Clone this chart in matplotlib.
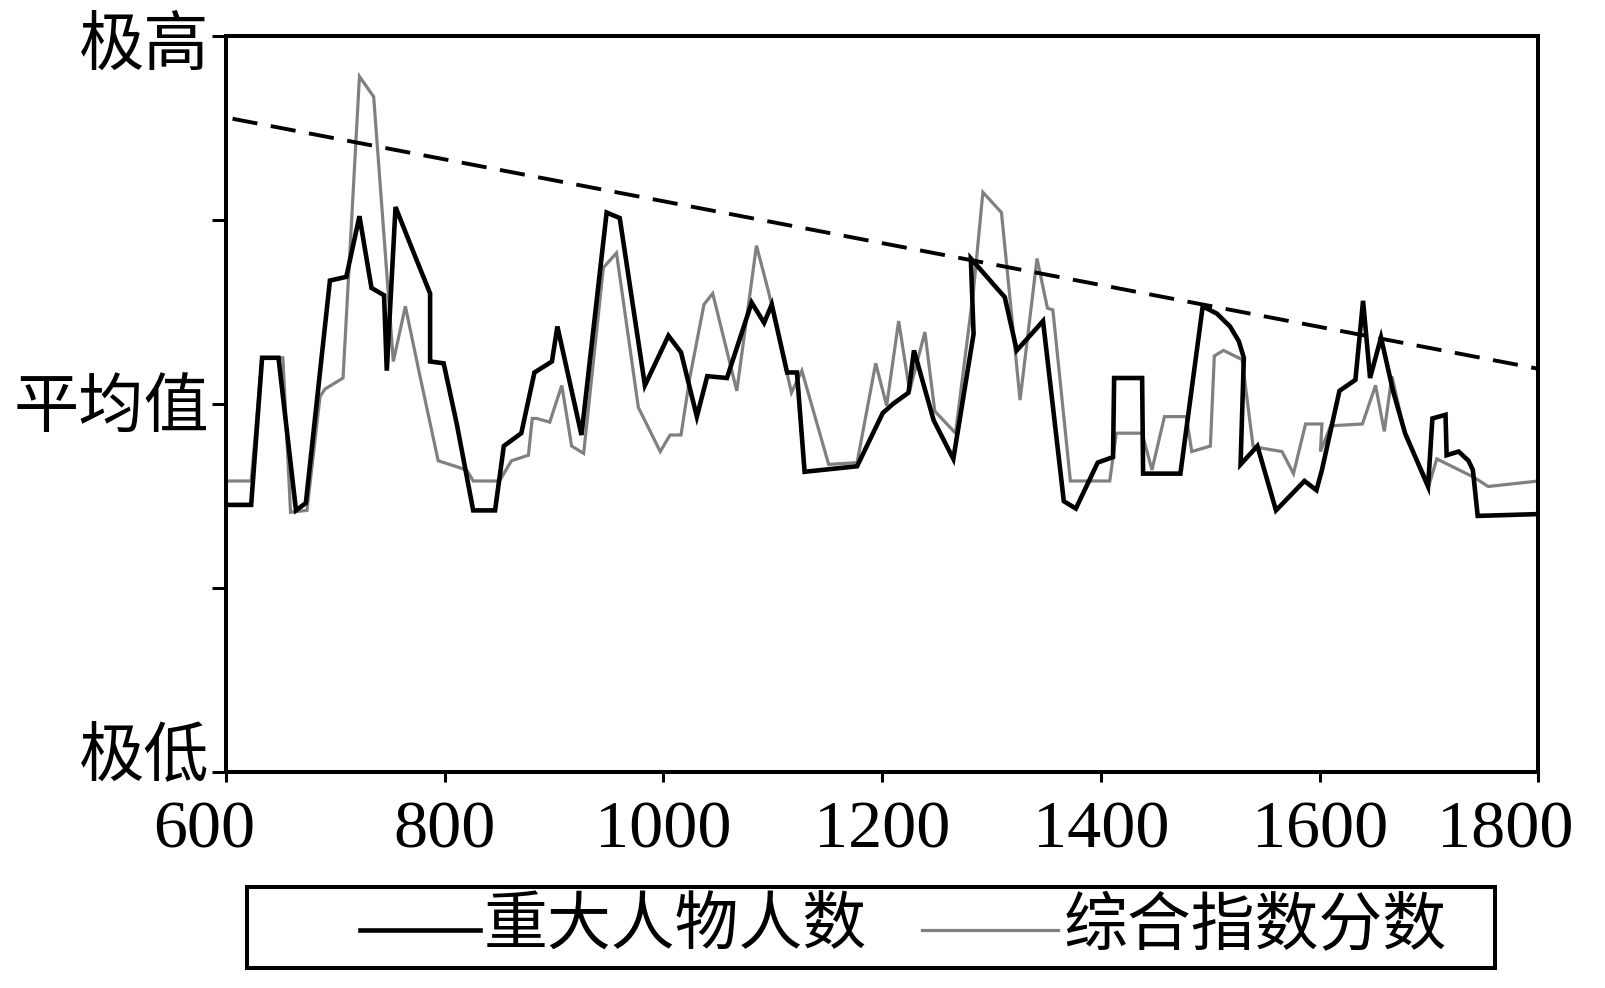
# -*- coding: utf-8 -*-
# 重大人物人数 vs 综合指数分数 (600-1800)
import matplotlib
matplotlib.use('Agg')
import matplotlib.pyplot as plt
import matplotlib.transforms as mtransforms
from matplotlib.lines import Line2D
from matplotlib.patches import Rectangle

plt.rcParams['font.family'] = ['Liberation Serif', 'Noto Sans CJK SC']

# black series: 重大人物人数 (years, level 0=极低 .. 4=极高)
black_year = [600, 623, 633, 648, 664, 673, 695, 710, 722, 733, 744.5, 747, 755, 771, 786.6, 786.6,
              799, 811, 826, 846, 854, 870, 882, 898, 903, 925, 948, 960, 983, 1004.5, 1016, 1030.5,
              1040, 1058, 1080.6, 1092, 1099, 1113, 1122, 1129, 1177, 1200.5, 1210, 1224, 1229, 1247,
              1265, 1283.5, 1281, 1306, 1312, 1323, 1347, 1366, 1377, 1397, 1411, 1412, 1437.6, 1438.5,
              1472.6, 1493, 1506, 1518, 1526, 1530.6, 1527.6, 1543, 1560, 1586, 1597, 1602, 1618, 1632.6,
              1639.6, 1646, 1656, 1667, 1678, 1699, 1703, 1715, 1716, 1727, 1736, 1740, 1744.4, 1800]
black_val = [1.45, 1.45, 2.25, 2.25, 1.42, 1.46, 2.67, 2.69, 3.02, 2.63, 2.59, 2.18, 3.07, 2.83, 2.60, 2.23,
             2.22, 1.89, 1.42, 1.42, 1.77, 1.84, 2.17, 2.23, 2.42, 1.83, 3.04, 3.01, 2.10, 2.37, 2.28, 1.93,
             2.15, 2.14, 2.55, 2.44, 2.54, 2.17, 2.17, 1.63, 1.66, 1.95, 2.00, 2.06, 2.29, 1.91,
             1.70, 2.38, 2.79, 2.62, 2.58, 2.29, 2.45, 1.47, 1.43, 1.68, 1.71, 2.14, 2.14, 1.62,
             1.62, 2.53, 2.49, 2.42, 2.34, 2.25, 1.67, 1.77, 1.42, 1.58, 1.53, 1.64, 2.07, 2.13,
             2.56, 2.14, 2.36, 2.07, 1.84, 1.55, 1.92, 1.94, 1.72, 1.74, 1.69, 1.64, 1.39, 1.40]

# gray series: 综合指数分数
gray_year = [600, 623, 633, 652, 659, 674, 686, 690.5, 707, 722, 735, 753, 764, 777, 794, 820, 826, 850,
             861, 876.5, 880, 884, 896, 907, 916, 927, 945, 957, 977, 997, 1006, 1016, 1024, 1037, 1045,
             1067, 1085, 1096, 1117, 1126.5, 1151, 1177, 1194, 1204, 1215, 1225, 1239, 1248, 1267,
             1283.5, 1292, 1309, 1326, 1341.5, 1351, 1356, 1372, 1408, 1414, 1437.6, 1446.6, 1458, 1478,
             1483, 1500, 1503.6, 1512, 1529, 1539, 1545.5, 1565.5, 1576, 1587, 1602, 1600.6, 1610, 1639,
             1651, 1659, 1666, 1678.5, 1700, 1707, 1741, 1754, 1800]
gray_val = [1.58, 1.58, 2.25, 2.25, 1.41, 1.42, 2.04, 2.08, 2.14, 3.78, 3.67, 2.23, 2.53, 2.16, 1.69, 1.64,
            1.58, 1.58, 1.69, 1.72, 1.92, 1.92, 1.90, 2.10, 1.77, 1.73, 2.74, 2.82, 1.98, 1.74, 1.83, 1.83,
            2.14, 2.54, 2.60, 2.07, 2.86, 2.61, 2.06, 2.18, 1.67, 1.68, 2.22, 1.99, 2.45, 2.07, 2.39,
            1.96, 1.84, 2.62, 3.15, 3.04, 2.02, 2.79, 2.52, 2.51, 1.58, 1.58, 1.84, 1.84, 1.64, 1.93,
            1.93, 1.74, 1.77, 2.26, 2.29, 2.24, 1.77, 1.76, 1.74, 1.62, 1.89, 1.89, 1.74, 1.88, 1.89,
            2.10, 1.85, 2.15, 1.82, 1.56, 1.70, 1.60, 1.55, 1.58]

# dashed trend line
trend_year = [606, 1800]
trend_val = [3.55, 2.19]

xticks = [600, 800, 1000, 1200, 1400, 1600, 1800]
yticks = [0, 1, 2, 3, 4]
ylabels = ['极低', '', '平均值', '', '极高']

fig = plt.figure(figsize=(16.06, 9.88), dpi=100)
ax = fig.add_axes([226/1606, 1-771.5/988, (1538.5-226)/1606, (771.5-36)/988])

ax.plot(black_year, black_val, color='black', lw=3.3, solid_joinstyle='miter', zorder=3)
ax.plot(gray_year, gray_val, color='#808080', lw=2.3, solid_joinstyle='miter', zorder=2)
ax.plot(trend_year, trend_val, color='black', lw=2.8, dashes=(6.5, 3.5), zorder=4)

ax.set_xlim(600, 1800)
ax.set_ylim(0, 4)
ax.set_xticks(xticks)
ax.set_xticklabels([str(t) for t in xticks])
ax.set_yticks(yticks)
ax.set_yticklabels(ylabels)
for s in ax.spines.values():
    s.set_linewidth(2.9)
ax.tick_params(axis='x', direction='out', length=7, width=2.2, labelsize=49, pad=14)
ax.tick_params(axis='y', direction='out', length=10, width=2.2, labelsize=47, pad=2)

# nudge end labels like the original
lab = ax.get_xticklabels()
lab[0].set_transform(lab[0].get_transform() + mtransforms.ScaledTranslation(-0.22, 0, fig.dpi_scale_trans))
lab[-1].set_transform(lab[-1].get_transform() + mtransforms.ScaledTranslation(-0.33, 0, fig.dpi_scale_trans))
ylab = ax.get_yticklabels()
ylab[0].set_transform(ylab[0].get_transform() + mtransforms.ScaledTranslation(0, 0.20, fig.dpi_scale_trans))
ylab[4].set_transform(ylab[4].get_transform() + mtransforms.ScaledTranslation(0, -0.06, fig.dpi_scale_trans))

# legend box drawn by hand (wide left padding in original)
def fx(px):
    return px / 1606
def fy(py):
    return 1 - py / 988

fig.add_artist(Rectangle((fx(247), fy(968)), fx(1495) - fx(247), fy(887) - fy(968),
                         transform=fig.transFigure, fill=False, lw=2.9, ec='black'))
fig.add_artist(Line2D([fx(360), fx(480)], [fy(930), fy(930)], transform=fig.transFigure, color='black', lw=3.3))
fig.text(fx(484), fy(929), '重大人物人数', fontsize=46, va='center', ha='left')
fig.add_artist(Line2D([fx(922), fx(1058)], [fy(930), fy(930)], transform=fig.transFigure, color='#808080', lw=2.3))
fig.text(fx(1064), fy(929), '综合指数分数', fontsize=46, va='center', ha='left')

fig.savefig('out.png', dpi=100)
